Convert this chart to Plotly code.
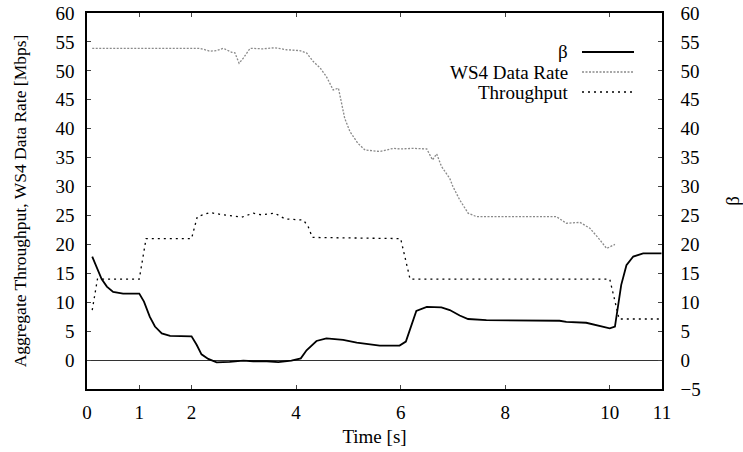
import plotly.graph_objects as go

# beta (right axis)
beta_t = [0.10, 0.28, 0.38, 0.50, 0.69, 1.00, 1.09, 1.20, 1.30, 1.43, 1.59, 2.00, 2.10, 2.19,
          2.32, 2.48, 2.73, 2.99, 3.18, 3.44, 3.66, 3.91, 4.09, 4.20, 4.39, 4.58, 4.90, 5.16,
          5.60, 5.98, 6.10, 6.21, 6.30, 6.50, 6.78, 6.94, 7.13, 7.29, 7.64, 9.04, 9.17, 9.55,
          9.81, 10.00, 10.10, 10.16, 10.22, 10.32, 10.45, 10.64, 10.99]
beta_v = [17.9, 14.0, 12.7, 11.8, 11.5, 11.5, 10.1, 7.5, 5.8, 4.6, 4.2, 4.1, 2.6, 1.0,
          0.2, -0.4, -0.3, -0.1, -0.2, -0.2, -0.35, -0.1, 0.3, 1.7, 3.3, 3.75, 3.5, 3.0,
          2.5, 2.5, 3.2, 6.3, 8.5, 9.2, 9.1, 8.65, 7.7, 7.1, 6.9, 6.8, 6.6, 6.45,
          5.9, 5.5, 5.8, 9.2, 13.0, 16.4, 17.9, 18.45, 18.45]

# WS4 data rate [Mbps]
ws4_t = [0.10, 2.16, 2.35, 2.48, 2.61, 2.77, 2.83, 2.91, 2.99, 3.12, 3.37, 3.59, 3.82, 4.07,
         4.20, 4.33, 4.46, 4.58, 4.71, 4.81, 4.93, 5.03, 5.18, 5.32, 5.45, 5.60, 5.86, 5.98,
         6.24, 6.50, 6.61, 6.69, 6.78, 6.94, 7.00, 7.13, 7.29, 7.45, 8.98, 9.17, 9.43, 9.62,
         9.81, 9.94, 10.10]
ws4_v = [53.9, 53.9, 53.4, 53.5, 53.9, 53.2, 53.1, 51.3, 52.2, 53.9, 53.8, 54.0, 53.65, 53.5,
         53.1, 51.6, 50.5, 49.0, 46.7, 47.0, 41.8, 39.5, 37.5, 36.3, 36.2, 36.05, 36.6, 36.5,
         36.6, 36.5, 34.6, 35.65, 33.5, 31.4, 30.0, 27.7, 25.4, 24.8, 24.8, 23.65, 23.8, 22.8,
         20.8, 19.3, 20.0]

# Aggregate throughput [Mbps]
thr_t = [0.10, 0.20, 1.00, 1.13, 2.00, 2.11, 2.35, 2.61, 2.96, 3.18, 3.34, 3.59, 3.79, 4.14,
         4.23, 4.31, 6.00, 6.18, 10.00, 10.18, 11.00]
thr_v = [8.65, 14.0, 14.0, 21.0, 21.0, 24.8, 25.5, 25.1, 24.7, 25.4, 25.1, 25.4, 24.4, 24.2,
         23.1, 21.2, 21.0, 14.0, 14.0, 7.1, 7.1]

x_ticks = [0, 1, 2, 4, 6, 8, 10, 11]
left_ticks = list(range(0, 61, 5))
right_ticks = list(range(-5, 61, 5))

FONT = "Liberation Serif, Times New Roman, Times, serif"
FS = 19

fig = go.Figure()
fig.add_trace(go.Scatter(x=ws4_t, y=ws4_v, mode="lines", name="WS4 Data Rate",
                         line=dict(color="#8a8a8a", width=1.3, dash="2px,1.5px")))
fig.add_trace(go.Scatter(x=thr_t, y=thr_v, mode="lines", name="Throughput",
                         line=dict(color="black", width=1.3, dash="2px,4px")))
fig.add_trace(go.Scatter(x=beta_t, y=beta_v, mode="lines", name="β", yaxis="y2",
                         line=dict(color="black", width=1.8)))

fig.update_layout(
    width=743, height=452,
    margin=dict(l=87, r=81, t=13, b=63, autoexpand=False),
    paper_bgcolor="white", plot_bgcolor="white",
    showlegend=False,
    font=dict(family=FONT, size=FS, color="black"),
    xaxis=dict(range=[0, 11], tickvals=x_ticks, ticks="inside", ticklen=4,
               showline=True, linecolor="black", linewidth=1.5, mirror="ticks",
               showgrid=False, zeroline=False, tickfont=dict(family=FONT, size=FS),
               ticklabelstandoff=5, automargin=False,
               title=dict(text="Time [s]", font=dict(family=FONT, size=FS), standoff=8)),
    yaxis=dict(range=[-5, 60], tickvals=left_ticks, ticks="inside", ticklen=4,
               showline=True, linecolor="black", linewidth=1.5, mirror=True,
               showgrid=False, zeroline=True, zerolinecolor="#333333", zerolinewidth=1.2,
               tickfont=dict(family=FONT, size=FS), ticklabelstandoff=7, automargin=False,
               title=dict(text="Aggregate Throughput, WS4 Data Rate [Mbps]",
                          font=dict(family=FONT, size=17.5), standoff=24)),
    yaxis2=dict(range=[-5, 60], tickvals=right_ticks, ticks="inside", ticklen=4,
                overlaying="y", side="right", showline=True, linecolor="black", linewidth=1.5,
                showgrid=False, zeroline=False, tickfont=dict(family=FONT, size=FS),
                ticklabelstandoff=13, automargin=False,
                title=dict(text="β", font=dict(family=FONT, size=FS), standoff=30)),
)

# gnuplot-style key (text right-aligned, sample on the right)
key = [("β", dict(color="black", width=1.8)),
       ("WS4 Data Rate", dict(color="#8a8a8a", width=1.3, dash="2px,1.5px")),
       ("Throughput", dict(color="black", width=1.3, dash="2px,4px"))]
x0 = (582 - 87) / 575
x1 = (634 - 87) / 575
xt = (570 - 87) / 575
for i, (label, ln) in enumerate(key):
    ypx = 52 + 20 * i
    yp = (389 - ypx) / 376
    fig.add_annotation(x=xt, y=yp, xref="paper", yref="paper", text=label, showarrow=False,
                       xanchor="right", yanchor="middle", font=dict(family=FONT, size=FS))
    fig.add_shape(type="line", xref="paper", yref="paper", x0=x0, x1=x1, y0=yp, y1=yp,
                  line=ln)

fig.write_html("out.html")
